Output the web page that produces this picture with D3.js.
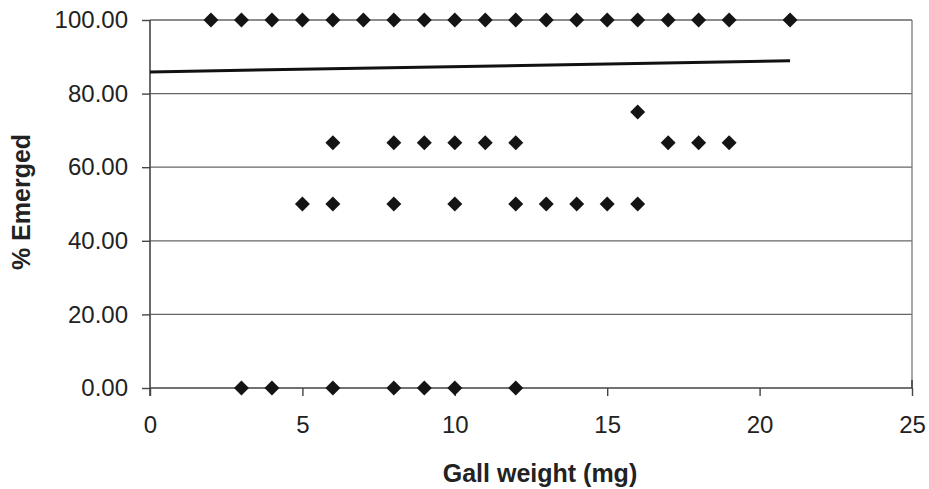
<!DOCTYPE html>
<html>
<head>
<meta charset="utf-8">
<script src="https://cdn.jsdelivr.net/npm/d3@7"></script>
<style>
  body { margin: 0; background: #fff; }
  svg text { font-family: Arial, "Liberation Sans", sans-serif; fill: #222; }
</style>
</head>
<body>
<svg id="chart" width="929" height="489"></svg>
<script>
// points, grouped by % emerged
const row100X = [2, 3, 4, 5, 6, 7, 8, 9, 10, 11, 12, 13, 14, 15, 16, 17, 18, 19, 21];
const row75X = [16];
const row67X = [6, 8, 9, 10, 11, 12, 17, 18, 19];
const row50X = [5, 6, 8, 10, 12, 13, 14, 15, 16];
const row0X = [3, 4, 6, 8, 9, 10, 12];
const rowLevels = [100, 75, 66.67, 50, 0];

// linear trendline end points
const trendX = [0, 21];
const trendY = [85.9, 88.9];

const xTicks = [0, 5, 10, 15, 20, 25];
const yTicks = [0, 20, 40, 60, 80, 100];

const svg = d3.select('#chart');
const plotL = 150, plotR = 912, plotT = 20, plotB = 388;

const x = d3.scaleLinear().domain([0, 25]).range([plotL, plotR]);
const y = d3.scaleLinear().domain([0, 100]).range([plotB, plotT]);

const points = [];
[row100X, row75X, row67X, row50X, row0X].forEach((xs, i) => {
  xs.forEach(v => points.push({ x: v, y: rowLevels[i] }));
});

// gridlines
svg.append('g')
  .selectAll('line')
  .data(yTicks.filter(d => d > 0))
  .enter()
  .append('line')
  .attr('x1', plotL)
  .attr('x2', plotR)
  .attr('y1', d => y(d))
  .attr('y2', d => y(d))
  .style('stroke', '#666')
  .style('stroke-width', 1.3);

// right border
svg.append('line')
  .attr('x1', plotR).attr('x2', plotR)
  .attr('y1', plotT).attr('y2', plotB)
  .style('stroke', '#777')
  .style('stroke-width', 1.3);

// axes
const yAxis = svg.append('g')
  .attr('transform', `translate(${plotL},0)`)
  .call(d3.axisLeft(y).tickValues(yTicks).tickFormat(d3.format('.2f')).tickSize(8).tickPadding(14));
const xAxis = svg.append('g')
  .attr('transform', `translate(0,${plotB})`)
  .call(d3.axisBottom(x).tickValues(xTicks).tickSize(8).tickPadding(20));

[yAxis, xAxis].forEach(ax => {
  ax.select('.domain').style('stroke', '#444').style('stroke-width', 1.6);
  ax.selectAll('.tick line').style('stroke', '#444').style('stroke-width', 1.4);
  ax.selectAll('.tick text')
    .style('font-size', '24px')
    .style('fill', '#222')
    .style('font-family', 'Arial, "Liberation Sans", sans-serif');
});
xAxis.select('.domain').attr('d', `M${plotL},0H${plotR}V-8`);
yAxis.select('.domain').attr('d', `M0,${plotT}V${plotB + 8}`);

// trendline
const line = d3.line()
  .x(d => x(d[0]))
  .y(d => y(d[1]));
svg.append('path')
  .datum(trendX.map((v, i) => [v, trendY[i]]))
  .attr('d', line)
  .style('fill', 'none')
  .style('stroke', '#111')
  .style('stroke-width', 3);

// markers
const diamond = d3.symbol().type(d3.symbolSquare).size(112);
svg.append('g')
  .selectAll('path')
  .data(points)
  .enter()
  .append('path')
  .attr('d', diamond)
  .attr('transform', d => `translate(${x(d.x)},${y(d.y)}) rotate(45)`)
  .style('fill', '#141414');

// axis titles
svg.append('text')
  .attr('x', 540)
  .attr('y', 482)
  .attr('text-anchor', 'middle')
  .style('font-size', '25px')
  .style('font-weight', 'bold')
  .text('Gall weight (mg)');

svg.append('text')
  .attr('transform', `translate(30,202) rotate(-90)`)
  .attr('text-anchor', 'middle')
  .style('font-size', '25px')
  .style('font-weight', 'bold')
  .text('% Emerged');
</script>
</body>
</html>
